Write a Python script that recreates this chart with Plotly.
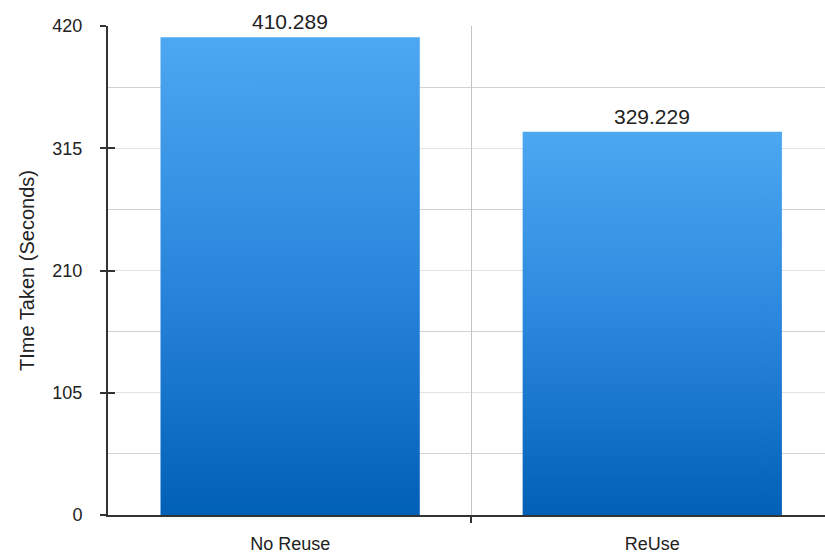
import plotly.graph_objects as go

# Benchmark results
categories = ["No Reuse", "ReUse"]
times = [410.289, 329.229]
value_labels = ["410.289", "329.229"]
y_ticks = [0, 105, 210, 315, 420]

BAR_HALF = 0.358
TOP_COLOR = "#4ca8f1"
BOTTOM_COLOR = "#0060b6"
FONT = "Liberation Sans, Arial, Helvetica, sans-serif"

fig = go.Figure()

# Each bar is a filled polygon so it can carry a vertical gradient
for i, (cat, v) in enumerate(zip(categories, times)):
    fig.add_trace(go.Scatter(
        x=[i - BAR_HALF, i - BAR_HALF, i + BAR_HALF, i + BAR_HALF, i - BAR_HALF],
        y=[0, v, v, 0, 0],
        mode="lines",
        line=dict(width=0, color=TOP_COLOR),
        fill="toself",
        fillgradient=dict(
            type="vertical",
            colorscale=[[0, BOTTOM_COLOR], [0.5, "#2a86dc"], [1, TOP_COLOR]],
            start=0,
            stop=v,
        ),
        name=cat,
        hoverinfo="skip",
        showlegend=False,
    ))

# Value labels above bars
for i, (v, lab) in enumerate(zip(times, value_labels)):
    fig.add_annotation(
        x=i, y=v, text=lab, showarrow=False,
        xanchor="center", yanchor="bottom", yshift=2,
        font=dict(family=FONT, size=21, color="#222222"),
    )

# Crossing tick marks on the axes (second half of each tick)
fig.add_trace(go.Scatter(x=[None], y=[None], yaxis="y2", xaxis="x2",
                         showlegend=False, hoverinfo="skip"))

fig.update_layout(
    width=825,
    height=554,
    margin=dict(l=108, r=0, t=26, b=35),
    paper_bgcolor="white",
    plot_bgcolor="white",
    font=dict(family=FONT, color="#333333"),
    xaxis=dict(
        range=[-0.503, 1.477],
        tickvals=[0, 1],
        ticktext=categories,
        ticks="",
        showgrid=False,
        zeroline=False,
        showline=True,
        linecolor="#333333",
        linewidth=2,
        tickfont=dict(family=FONT, size=18, color="#222222"),
        ticklabelstandoff=11,
    ),
    xaxis2=dict(
        overlaying="x",
        matches="x",
        side="bottom",
        tickvals=[0.5],
        showticklabels=False,
        ticks="outside",
        ticklen=7,
        tickwidth=1.5,
        tickcolor="#333333",
        showgrid=True,
        gridcolor="#c4c4c4",
        gridwidth=1.2,
        zeroline=False,
        showline=False,
        anchor="y2",
    ),
    yaxis=dict(
        range=[0, 420],
        tickvals=y_ticks,
        ticks="outside",
        ticklen=6,
        tickwidth=1.5,
        tickcolor="#333333",
        showgrid=True,
        gridcolor="#e2e2e2",
        gridwidth=1,
        minor=dict(dtick=52.5, showgrid=True, gridcolor="#d2d2d2", gridwidth=1),
        zeroline=False,
        showline=True,
        linecolor="#333333",
        linewidth=2,
        tickfont=dict(family=FONT, size=18, color="#222222"),
        ticklabelstandoff=14,
        title=dict(text="TIme Taken (Seconds)",
                   font=dict(family=FONT, size=20, color="#222222"),
                   standoff=12),
    ),
    yaxis2=dict(
        overlaying="y",
        matches="y",
        tickvals=y_ticks,
        showticklabels=False,
        ticks="inside",
        ticklen=7,
        tickwidth=1.5,
        tickcolor="#333333",
        showgrid=False,
        zeroline=False,
        showline=False,
        anchor="x2",
    ),
)

fig.write_html("out.html")
